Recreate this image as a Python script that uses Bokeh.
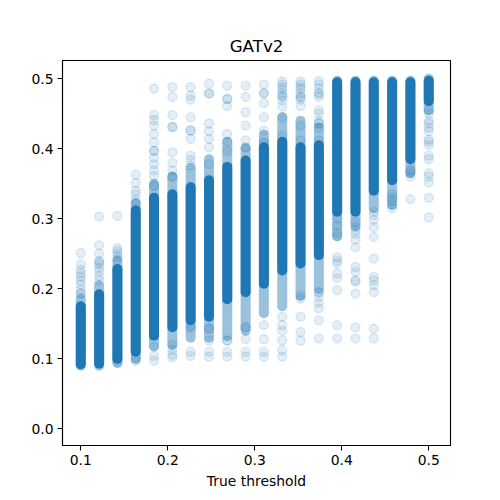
from bokeh.plotting import figure
from bokeh.models import FixedTicker, Range1d, ColumnDataSource
from bokeh.embed import file_html
from bokeh.resources import INLINE

# ---- data ----
thresholds = [0.1000, 0.1211, 0.1421, 0.1632, 0.1842, 0.2053, 0.2263, 0.2474, 0.2684, 0.2895,
              0.3105, 0.3316, 0.3526, 0.3737, 0.3947, 0.4158, 0.4368, 0.4579, 0.4789, 0.5000]

# dense (saturated) part of each column
core_lo = [0.092, 0.093, 0.100, 0.110, 0.133, 0.145, 0.155, 0.160, 0.185, 0.195,
           0.207, 0.226, 0.236, 0.248, 0.310, 0.310, 0.340, 0.355, 0.385, 0.468]
core_hi = [0.175, 0.192, 0.228, 0.312, 0.330, 0.335, 0.345, 0.355, 0.374, 0.383,
           0.402, 0.410, 0.402, 0.405, 0.495, 0.495, 0.495, 0.495, 0.495, 0.497]
# half-dense spread around the core
spread_lo = [0.090, 0.090, 0.094, 0.100, 0.118, 0.120, 0.130, 0.130, 0.132, 0.140,
             0.165, 0.175, 0.190, 0.200, 0.275, 0.290, 0.315, 0.320, 0.365, 0.455]
spread_hi = [0.186, 0.205, 0.240, 0.322, 0.350, 0.360, 0.372, 0.385, 0.410, 0.400,
             0.420, 0.445, 0.440, 0.430, 0.497, 0.497, 0.497, 0.497, 0.497, 0.500]

# sparse individual predictions per column
outliers = [
    [0.251, 0.235, 0.227, 0.222, 0.217, 0.212, 0.206, 0.199, 0.193, 0.193],
    [0.303, 0.262, 0.250, 0.240, 0.238, 0.235, 0.230, 0.225, 0.218, 0.212],
    [0.304, 0.258, 0.254, 0.250, 0.246, 0.242, 0.099, 0.095],
    [0.363, 0.351, 0.340, 0.335, 0.327, 0.322, 0.100, 0.097],
    [0.486, 0.448, 0.441, 0.433, 0.421, 0.409, 0.397, 0.397, 0.387, 0.378, 0.369, 0.361, 0.347,
     0.347, 0.117, 0.104, 0.097],
    [0.488, 0.474, 0.448, 0.431, 0.431, 0.395, 0.380, 0.369, 0.360, 0.360, 0.120, 0.113, 0.106, 0.102],
    [0.488, 0.476, 0.470, 0.445, 0.426, 0.426, 0.414, 0.390, 0.384, 0.376, 0.145, 0.145, 0.110,
     0.104],
    [0.493, 0.479, 0.479, 0.436, 0.425, 0.414, 0.402, 0.378, 0.143, 0.143, 0.126, 0.110, 0.103],
    [0.490, 0.471, 0.471, 0.461, 0.421, 0.410, 0.397, 0.126, 0.126, 0.110, 0.103],
    [0.490, 0.474, 0.452, 0.433, 0.412, 0.402, 0.402, 0.145, 0.145, 0.128, 0.110, 0.103],
    [0.492, 0.479, 0.479, 0.465, 0.445, 0.426, 0.409, 0.409, 0.148, 0.128, 0.110, 0.103],
    [0.496, 0.492, 0.488, 0.484, 0.479, 0.475, 0.475, 0.469, 0.460, 0.445, 0.419, 0.160, 0.148,
     0.140, 0.126, 0.112, 0.103],
    [0.496, 0.492, 0.488, 0.485, 0.479, 0.474, 0.474, 0.470, 0.461, 0.433, 0.412, 0.190, 0.186,
     0.160, 0.138, 0.126],
    [0.497, 0.492, 0.486, 0.480, 0.478, 0.474, 0.455, 0.450, 0.440, 0.436, 0.436, 0.430, 0.412,
     0.195, 0.195, 0.188, 0.180, 0.172, 0.155, 0.129],
    [0.300, 0.290, 0.280, 0.275, 0.245, 0.240, 0.236, 0.222, 0.215, 0.198, 0.148, 0.129],
    [0.295, 0.288, 0.283, 0.278, 0.270, 0.259, 0.231, 0.224, 0.212, 0.210, 0.193, 0.145, 0.129],
    [0.310, 0.305, 0.298, 0.288, 0.274, 0.243, 0.217, 0.212, 0.205, 0.195, 0.143, 0.129],
    [0.335, 0.330, 0.326, 0.320, 0.315],
    [0.370, 0.368, 0.365, 0.360, 0.328],
    [0.455, 0.450, 0.440, 0.436, 0.430, 0.425, 0.413, 0.410, 0.405, 0.390, 0.385, 0.365, 0.360,
     0.352, 0.330, 0.302],
]

x_ticks = [0.1, 0.2, 0.3, 0.4, 0.5]
y_ticks = [0.0, 0.1, 0.2, 0.3, 0.4, 0.5]
tick_labels_x = ["0.1", "0.2", "0.3", "0.4", "0.5"]
tick_labels_y = ["0.0", "0.1", "0.2", "0.3", "0.4", "0.5"]

BLUE = "#1f77b4"
FONT = "DejaVu Sans"

p = figure(width=500, height=500, output_backend="svg", toolbar_location=None,
           x_range=Range1d(0.079, 0.525), y_range=Range1d(-0.024, 0.526),
           min_border_left=62, min_border_right=50, min_border_top=60, min_border_bottom=55,
           title="GATv2")

cols = ColumnDataSource(dict(x=thresholds, core_lo=core_lo, core_hi=core_hi,
                             spread_lo=spread_lo, spread_hi=spread_hi))
p.segment(x0="x", y0="spread_lo", x1="x", y1="spread_hi", source=cols,
          line_color=BLUE, line_alpha=0.45, line_width=10, line_cap="round")
p.segment(x0="x", y0="core_lo", x1="x", y1="core_hi", source=cols,
          line_color=BLUE, line_alpha=1.0, line_width=10, line_cap="round")

ox, oy = [], []
for xv, ys in zip(thresholds, outliers):
    for yv in ys:
        ox.append(xv)
        oy.append(yv)
p.scatter(ox, oy, size=9, fill_color=BLUE, fill_alpha=0.12,
          line_color=BLUE, line_alpha=0.14, line_width=1.3)

p.grid.visible = False
p.outline_line_color = "black"
p.outline_line_width = 1.1
p.background_fill_color = "white"
p.border_fill_color = "white"

p.title.align = "center"
p.title.text_font = FONT
p.title.text_font_size = "16.7px"
p.title.text_font_style = "normal"
p.title.text_color = "black"

p.xaxis.ticker = FixedTicker(ticks=x_ticks)
p.yaxis.ticker = FixedTicker(ticks=y_ticks)
p.xaxis.major_label_overrides = dict(zip(x_ticks, tick_labels_x))
p.yaxis.major_label_overrides = dict(zip(y_ticks, tick_labels_y))
p.xaxis.axis_label = "True threshold"

for ax in (p.xaxis, p.yaxis):
    ax.major_label_text_font = FONT
    ax.major_label_text_font_size = "13.9px"
    ax.major_label_text_color = "black"
    ax.axis_label_text_font = FONT
    ax.axis_label_text_font_size = "13.9px"
    ax.axis_label_text_font_style = "normal"
    ax.axis_label_text_color = "black"
    ax.axis_label_standoff = 5
    ax.major_label_standoff = 4
    ax.major_tick_out = 5
    ax.major_tick_in = 0
    ax.minor_tick_out = 0
    ax.minor_tick_in = 0
    ax.axis_line_color = "black"
    ax.axis_line_width = 1.1
    ax.major_tick_line_color = "black"
    ax.major_tick_line_width = 1.1

open("out.html", "w").write(file_html(p, INLINE))
